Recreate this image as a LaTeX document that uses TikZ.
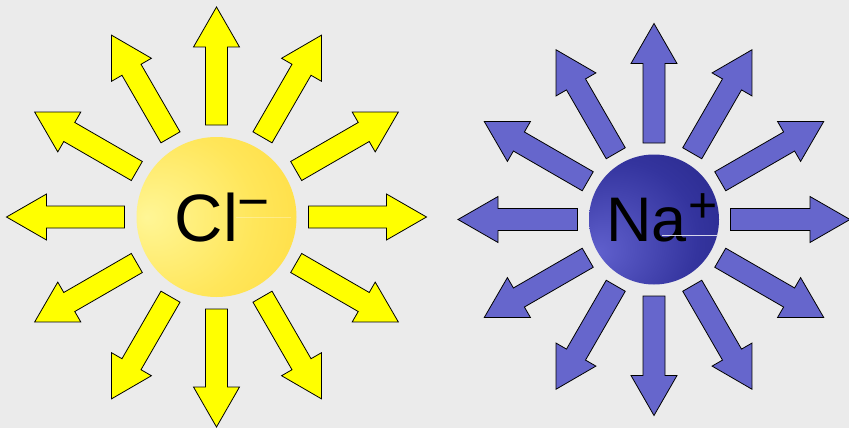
\documentclass[tikz,border=0pt]{standalone}
\usepackage{fontspec}
\setmainfont{Liberation Sans}
\definecolor{fondo}{RGB}{235,235,235}
\definecolor{amarillo}{RGB}{255,255,0}
\definecolor{azul}{RGB}{102,102,204}
\definecolor{clclaro}{RGB}{255,246,150}
\definecolor{clmedio}{RGB}{255,230,90}
\definecolor{closcuro}{RGB}{255,204,24}
\definecolor{naclaro}{RGB}{96,96,205}
\definecolor{namedio}{RGB}{52,52,158}
\definecolor{naoscuro}{RGB}{20,20,104}
\pgfdeclareradialshading{bolacl}{\pgfpoint{-22bp}{0bp}}{color(0bp)=(clclaro); color(26bp)=(clmedio); color(72bp)=(closcuro)}
\pgfdeclareradialshading{bolana}{\pgfpoint{-22bp}{-13bp}}{color(0bp)=(naclaro); color(30bp)=(namedio); color(76bp)=(naoscuro)}
\tikzset{
  flechacl/.style={fill=amarillo, draw=black, line width=0.8pt, line join=miter},
  flechana/.style={fill=azul, draw=black, line width=0.8pt, line join=miter}
}
\begin{document}
\begin{tikzpicture}[x=1pt,y=-1pt]
    \fill[fondo] (0,0) rectangle (849,428);
    \useasboundingbox (0,0) rectangle (849,428);
    % Campo del Cl-
    \foreach \a in {0,30,...,330}
        \filldraw[flechacl, shift={(216.5,217)}, rotate=\a]
            (92,-11) -- (170,-11) -- (170,-23) -- (210,0) -- (170,23) -- (170,11) -- (92,11) -- cycle;
    \shade[shading=bolacl] (216.5,217) circle (80);
    \draw[white, opacity=0.3, line width=0.6pt] (236,217.7) -- (291,217.7);
    \node[anchor=base west, inner sep=0pt, font=\fontsize{67}{67}\selectfont] (cl) at (174.7,241.7)
        {Cl\hspace{-1pt}\raisebox{20.9pt}{\fontsize{55}{55}\selectfont −}};
    % Campo del Na+
    \foreach \a in {0,30,...,330}
        \filldraw[flechana, shift={(654,219.5)}, rotate=\a]
            (76.5,-11) -- (156,-11) -- (156,-23) -- (196,0) -- (156,23) -- (156,11) -- (76.5,11) -- cycle;
    \shade[shading=bolana] (654,219.5) circle (65);
    \node[anchor=base west, inner sep=0pt, font=\fontsize{63}{63}\selectfont] (na) at (605.9,241.7)
        {Na\hspace{2.2pt}\raisebox{19.3pt}{\fontsize{50}{50}\selectfont +}};
    \draw[white, opacity=0.8, line width=0.7pt] (662,235.5) -- (717,235.5);
\end{tikzpicture}
\end{document}
